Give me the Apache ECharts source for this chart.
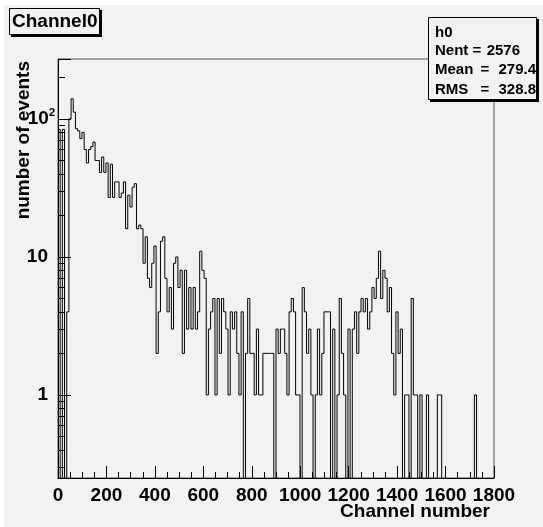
<!DOCTYPE html>
<html><head><meta charset="utf-8">
<script src="https://cdn.jsdelivr.net/npm/echarts@6/dist/echarts.min.js"></script>
<style>html,body{margin:0;padding:0;background:#fff}#c{width:543px;height:527px}</style>
</head><body><div id="c"></div>
<script>
// ---- data ----
const binWidth = 9;            // channels per bin (200 bins over 0..1800)
const counts = [
  84,0,84,0,4,100,140,112,85,82,
  72,80,60,48,60,63,68,50,50,41,
  53,41,48,27,47,27,35,35,27,29,
  35,16,28,23,32,34,16,17,16,9,
  14,7,6,9,12,2,4,13,14,7,
  4,6,3,9,10,6,8,2,8,3,
  6,3,6,3,4,11,8,7,1,3,
  4,5,1,5,2,5,4,3,1,4,
  3,4,2,1,4,0,2,5,2,2,
  1,3,1,1,2,2,2,2,2,0,
  3,2,3,3,2,1,4,5,4,1,
  1,0,6,4,2,3,1,0,1,3,
  1,2,4,4,4,0,3,0,1,5,
  2,1,0,3,0,3,4,2,4,5,
  4,5,3,4,6,5,7,11,5,8,
  7,4,6,2,1,4,2,3,0,1,
  1,0,5,1,1,0,1,0,0,1,
  0,0,0,0,1,1,0,0,0,0,
  0,0,0,0,0,0,0,0,0,0,
  0,1,0,0,0,0,0,0,0,0
];
const xRange = [0, 1800];
const xInterval = 200;
const yRange = [0.25, 272];
const yMinorTicks = [0.3,0.4,0.5,0.6,0.7,0.8,0.9,2,3,4,5,6,7,8,9,20,30,40,50,60,70,80,90,200];
const titleText = 'Channel0';
const xTitle = 'Channel number';
const yTitle = 'number of events';
const statsName = 'h0';
const statsLabels = ['Nent', 'Mean', 'RMS'];
const statsValues = ['2576', '279.4', '328.8'];

// ---- build ----
const FONT = 'Liberation Sans, Arial, Helvetica, sans-serif';
const emptyFloor = 0.01; // empty bins drop below the log axis floor
const stepData = counts.map((c, i) => [i * binWidth, c > 0 ? c : emptyFloor]);
const lastC = counts[counts.length - 1];
stepData.push([counts.length * binWidth, lastC > 0 ? lastC : emptyFloor]);

const chart = echarts.init(document.getElementById('c'), null, {renderer: 'canvas'});

function logLabel(v) {
  const e = Math.log10(v);
  if (Math.abs(e - Math.round(e)) > 1e-6) return '';
  const p = Math.round(e);
  if (p === 0) return '{n|1}';
  if (p === 1) return '{n|10}';
  return '{b|10}{s|' + p + '}';
}

const statsLines = [];
statsLines.push({type:'text', left: 435, top: 25, style:{text: statsName, font: 'bold 15px ' + FONT, fill:'#000'}, z: 12});
statsLabels.forEach((lab, k) => {
  const yy = 43 + k * 19.5;
  statsLines.push({type:'text', x: 435, y: yy, style:{text: lab, font: 'bold 15px ' + FONT, fill:'#000', verticalAlign:'top', align:'left'}, z: 12});
  statsLines.push({type:'text', x: k === 0 ? 477 : 485, y: yy, style:{text: '=', font: 'bold 15px ' + FONT, fill:'#000', verticalAlign:'top', align:'center'}, z: 12});
  statsLines.push({type:'text', x: k === 0 ? 520 : 536, y: yy, style:{text: statsValues[k], font: 'bold 15px ' + FONT, fill:'#000', verticalAlign:'top', align:'right'}, z: 12});
});

const option = {
  animation: false,
  backgroundColor: 'transparent',
  textStyle: {fontFamily: FONT},
  grid: {left: 58, right: 49, top: 59, bottom: 49, show: true, borderColor: '#555', borderWidth: 1, backgroundColor: 'transparent', containLabel: false},
  xAxis: {
    type: 'value', min: xRange[0], max: xRange[1], interval: xInterval,
    axisLine: {show: true, onZero: false, lineStyle: {color: '#000', width: 1}},
    axisTick: {show: true, inside: true, length: 12, lineStyle: {color: '#000', width: 1}},
    minorTick: {show: true, splitNumber: 4, length: 6, lineStyle: {color: '#000', width: 1}},
    axisLabel: {show: true, margin: 8, fontSize: 19, fontWeight: 'bold', color: '#000', fontFamily: FONT,
      showMinLabel: true, showMaxLabel: true, formatter: v => String(v)},
    splitLine: {show: false}, minorSplitLine: {show: false}
  },
  yAxis: [
    {
      type: 'log', logBase: 10, min: yRange[0], max: yRange[1],
      axisLine: {show: true, onZero: false, lineStyle: {color: '#000', width: 1}},
      axisTick: {show: true, inside: true, length: 13, lineStyle: {color: '#000', width: 1}},
      axisLabel: {
        show: true, margin: 3, color: '#000', fontFamily: FONT, fontWeight: 'bold', fontSize: 19,
        formatter: logLabel,
        rich: {
          n: {fontSize: 19, fontWeight: 'bold', fontFamily: FONT, color: '#000', padding: [0, 7, 0, 0]},
          b: {fontSize: 19, fontWeight: 'bold', fontFamily: FONT, color: '#000'},
          s: {fontSize: 11, fontWeight: 'bold', fontFamily: FONT, color: '#000', padding: [0, 0, 12, 0]}
        }
      },
      splitLine: {show: false}
    },
    {
      type: 'value', min: Math.log10(yRange[0]), max: Math.log10(yRange[1]), position: 'left',
      axisLine: {show: false, onZero: false},
      axisLabel: {show: false},
      axisTick: {show: true, inside: true, length: 7, customValues: yMinorTicks.map(v => Math.log10(v)), lineStyle: {color: '#000', width: 1}},
      splitLine: {show: false}
    }
  ],
  series: [{
    type: 'line', step: 'end', data: stepData, yAxisIndex: 0,
    showSymbol: false, symbol: 'none', clip: true,
    lineStyle: {color: '#000', width: 1},
    z: 3
  }],
  graphic: {
    elements: [
      {type: 'rect', shape: {x: 4, y: 5, width: 539, height: 522}, style: {fill: '#f2f2f2'}, z: -100, silent: true},
      // title box
      {type: 'rect', shape: {x: 11, y: 10, width: 91, height: 27}, style: {fill: '#000'}, z: 10},
      {type: 'rect', shape: {x: 9.5, y: 8.5, width: 90, height: 26}, style: {fill: '#f2f2f2', stroke: '#000', lineWidth: 1}, z: 11},
      {type: 'text', x: 12, y: 22, style: {text: titleText, font: 'bold 19px ' + FONT, fill: '#000', verticalAlign: 'middle', align: 'left'}, z: 12},
      // stats box
      {type: 'rect', shape: {x: 430, y: 19, width: 109, height: 83}, style: {fill: '#000'}, z: 10},
      {type: 'rect', shape: {x: 428.5, y: 17.5, width: 108, height: 82}, style: {fill: '#f2f2f2', stroke: '#000', lineWidth: 1}, z: 11},
      ...statsLines,
      // axis titles
      {type: 'text', x: 490, y: 512, style: {text: xTitle, font: 'bold 19px ' + FONT, fill: '#000', verticalAlign: 'middle', align: 'right'}, z: 12},
      {type: 'text', x: 23.5, y: 61, rotation: Math.PI / 2, style: {text: yTitle, font: 'bold 19px ' + FONT, fill: '#000', verticalAlign: 'middle', align: 'right'}, z: 12}
    ]
  }
};
chart.setOption(option);
</script>
</body></html>
